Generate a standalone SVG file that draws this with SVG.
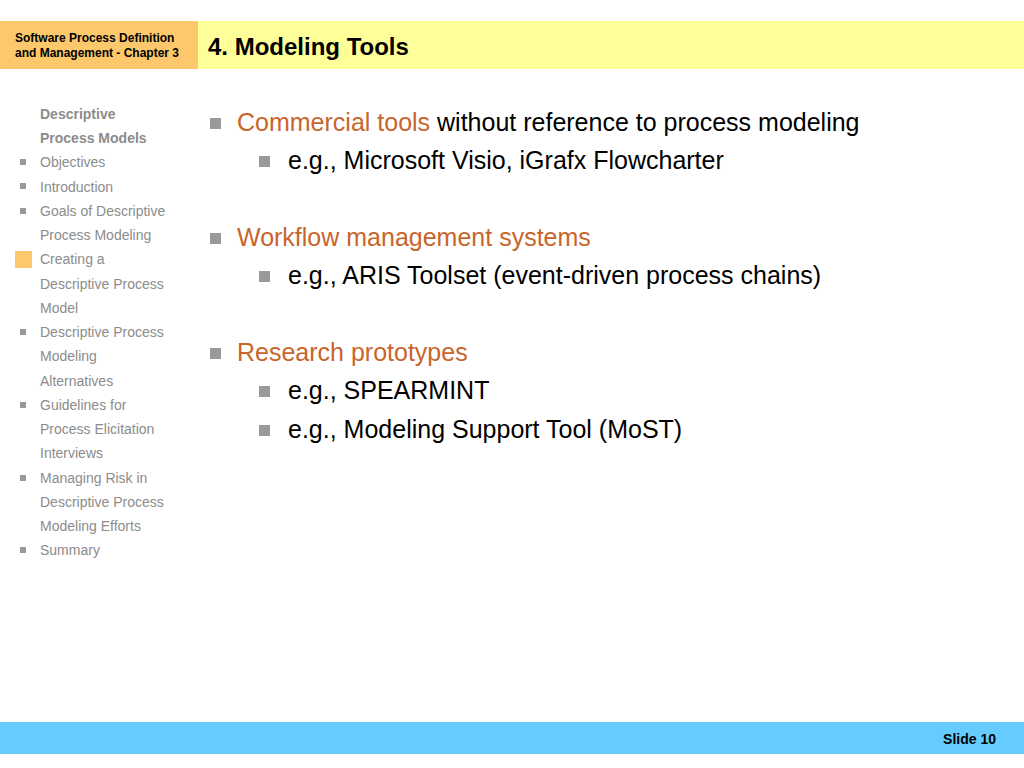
<svg xmlns="http://www.w3.org/2000/svg" width="1024" height="768" viewBox="0 0 1024 768">
<style>
.nav{font-family:"Liberation Sans",Arial,sans-serif;font-size:14px;fill:#8c8c8c}
.b{font-weight:bold}
.t1{font-family:"Liberation Sans",Arial,sans-serif;font-size:25px;fill:#000}
.or{fill:#c8652a}
.t2{font-family:"Liberation Sans",Arial,sans-serif;font-size:25px;fill:#000}
</style>
<rect width="1024" height="768" fill="#fff"/>
<rect x="0" y="21" width="198" height="48" fill="#fdc76b"/>
<rect x="198" y="21" width="826" height="48" fill="#ffff99"/>
<text x="15" y="42" font-family="Liberation Sans,Arial,sans-serif" font-size="12" font-weight="bold">Software Process Definition</text>
<text x="15" y="57" font-family="Liberation Sans,Arial,sans-serif" font-size="12" font-weight="bold">and Management - Chapter 3</text>
<text x="208" y="55" font-family="Liberation Sans,Arial,sans-serif" font-size="24" font-weight="bold">4. Modeling Tools</text>
<g class="nav">
<text x="40" y="119" class="b">Descriptive</text>
<text x="40" y="143" class="b">Process Models</text>
<text x="40" y="167">Objectives</text>
<text x="40" y="192">Introduction</text>
<text x="40" y="216">Goals of Descriptive</text>
<text x="40" y="240">Process Modeling</text>
<text x="40" y="264">Creating a</text>
<text x="40" y="289">Descriptive Process</text>
<text x="40" y="313">Model</text>
<text x="40" y="337">Descriptive Process</text>
<text x="40" y="361">Modeling</text>
<text x="40" y="386">Alternatives</text>
<text x="40" y="410">Guidelines for</text>
<text x="40" y="434">Process Elicitation</text>
<text x="40" y="458">Interviews</text>
<text x="40" y="483">Managing Risk in</text>
<text x="40" y="507">Descriptive Process</text>
<text x="40" y="531">Modeling Efforts</text>
<text x="40" y="555">Summary</text>
</g>
<g fill="#999">
<rect x="20" y="159" width="6" height="6"/><rect x="20" y="183" width="6" height="6"/><rect x="20" y="208" width="6" height="6"/>
<rect x="20" y="329" width="6" height="6"/><rect x="20" y="402" width="6" height="6"/><rect x="20" y="475" width="6" height="6"/><rect x="20" y="547" width="6" height="6"/>
<rect x="210" y="118" width="11" height="11"/><rect x="210" y="233" width="11" height="11"/><rect x="210" y="348" width="11" height="11"/>
<rect x="259" y="156" width="11" height="11"/><rect x="259" y="271" width="11" height="11"/><rect x="259" y="386" width="11" height="11"/><rect x="259" y="425" width="11" height="11"/>
</g>
<rect x="15" y="251" width="17" height="17" fill="#fdc76b"/>
<text x="237" y="131" class="t1"><tspan class="or">Commercial tools</tspan> without reference to process modeling</text>
<text x="288" y="169" class="t2">e.g., Microsoft Visio, iGrafx Flowcharter</text>
<text x="237" y="246" class="t1 or">Workflow management systems</text>
<text x="288" y="284" class="t2">e.g., ARIS Toolset (event-driven process chains)</text>
<text x="237" y="361" class="t1 or">Research prototypes</text>
<text x="288" y="399" class="t2">e.g., SPEARMINT</text>
<text x="288" y="438" class="t2">e.g., Modeling Support Tool (MoST)</text>
<rect x="0" y="722" width="1024" height="32" fill="#66ccff"/>
<text x="996" y="744" text-anchor="end" font-family="Liberation Sans,Arial,sans-serif" font-size="14" font-weight="bold">Slide 10</text>
</svg>
